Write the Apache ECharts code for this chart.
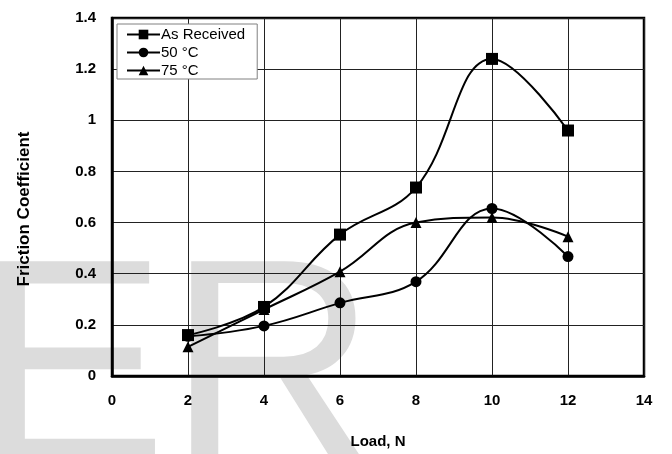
<!DOCTYPE html>
<html>
<head>
<meta charset="utf-8">
<script src="https://cdn.jsdelivr.net/npm/echarts@6/dist/echarts.min.js"></script>
<style>html,body{margin:0;padding:0;background:#fff}#c{width:672px;height:454px}</style>
</head>
<body>
<div id="c"></div>
<script>
var loads = [2, 4, 6, 8, 10, 12];
var asReceived = [0.16, 0.27, 0.553, 0.737, 1.24, 0.96];
var c50 = [0.155, 0.196, 0.286, 0.369, 0.655, 0.467];
var c75 = [0.114, 0.26, 0.408, 0.6, 0.62, 0.545];
var seriesNames = ['As Received', '50 °C', '75 °C'];
var xAxisTitle = 'Load, N';
var yAxisTitle = 'Friction Coefficient';
var watermark = 'ER';

function pairs(vals) { return loads.map(function (x, i) { return [x, vals[i]]; }); }

var chart = echarts.init(document.getElementById('c'));
var font = 'Liberation Sans, Arial, sans-serif';
var lineStyle = { color: '#000', width: 2 };
chart.setOption({
  animation: false,
  backgroundColor: '#fff',
  graphic: [{
    type: 'text', left: -26, top: 291 - 0.19 * 290, z: -10, silent: true,
    style: { text: watermark, font: '290px Liberation Sans, Arial', fill: '#dcdcdc' }
  }],
  grid: { left: 112, right: 28, top: 18, bottom: 78, show: true, borderColor: '#000', borderWidth: 2.5, backgroundColor: 'transparent' },
  legend: {
    orient: 'vertical', left: 117, top: 24, padding: [3, 12, 1, 9], itemGap: 3,
    itemWidth: 33, itemHeight: 12,
    backgroundColor: '#fff', borderColor: '#808080', borderWidth: 1,
    textStyle: { fontFamily: font, fontSize: 15, color: '#000', padding: [0, 0, 0, -4] },
    data: seriesNames
  },
  xAxis: {
    type: 'value', min: 0, max: 14, interval: 2,
    name: xAxisTitle, nameLocation: 'middle', nameGap: 58,
    nameTextStyle: { fontFamily: font, fontSize: 15, fontWeight: 'bold', color: '#000' },
    axisLine: { lineStyle: { color: '#000', width: 2.5 } },
    axisTick: { show: false },
    axisLabel: { fontFamily: font, fontSize: 15, fontWeight: 'bold', color: '#000', margin: 17 },
    splitLine: { lineStyle: { color: '#222', width: 1 } }
  },
  yAxis: {
    type: 'value', min: 0, max: 1.4, interval: 0.2,
    name: yAxisTitle, nameLocation: 'middle', nameGap: 79,
    nameTextStyle: { fontFamily: font, fontSize: 17, fontWeight: 'bold', color: '#000', padding: [0, 24, 0, 0] },
    axisLine: { lineStyle: { color: '#000', width: 2.5 } },
    axisTick: { show: false },
    axisLabel: { fontFamily: font, fontSize: 15, fontWeight: 'bold', color: '#000', margin: 16 },
    splitLine: { lineStyle: { color: '#222', width: 1 } }
  },
  series: [
    { name: seriesNames[0], type: 'line', data: pairs(asReceived), smooth: 0.4, symbol: 'rect', symbolSize: 12,
      itemStyle: { color: '#000' }, lineStyle: lineStyle, z: 5 },
    { name: seriesNames[1], type: 'line', data: pairs(c50), smooth: 0.4, symbol: 'circle', symbolSize: 11,
      itemStyle: { color: '#000' }, lineStyle: lineStyle, z: 5 },
    { name: seriesNames[2], type: 'line', data: pairs(c75), smooth: 0.4, symbol: 'triangle', symbolSize: 11,
      itemStyle: { color: '#000' }, lineStyle: lineStyle, z: 5 }
  ]
});
</script>
</body>
</html>
